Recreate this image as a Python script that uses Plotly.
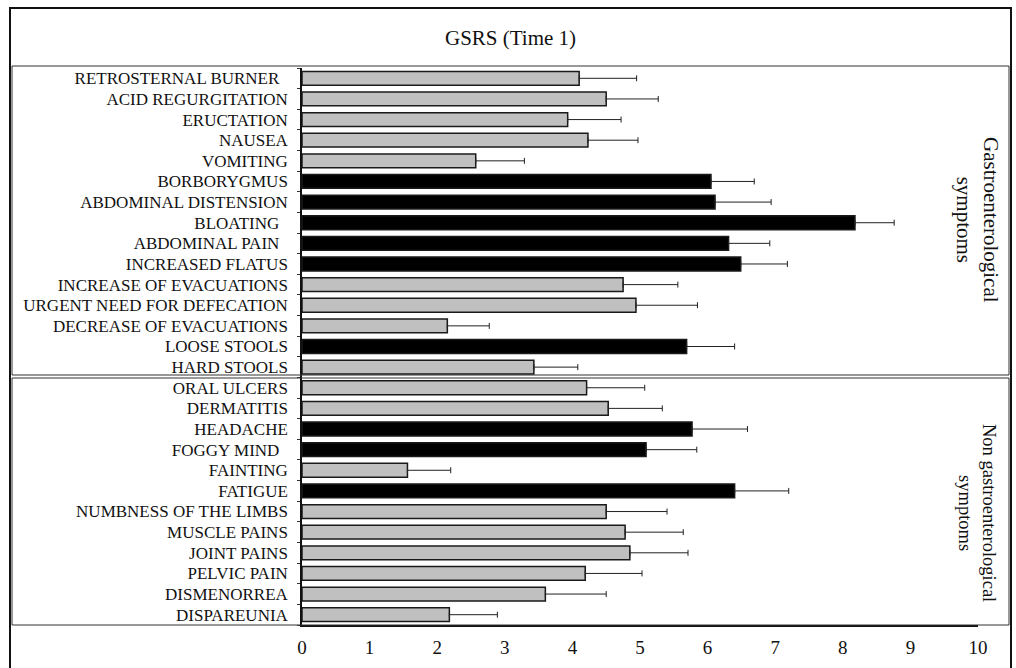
import plotly.graph_objects as go

# ---------------- data ----------------
categories = [
    "RETROSTERNAL BURNER ", "ACID REGURGITATION", "ERUCTATION", "NAUSEA", "VOMITING",
    "BORBORYGMUS", "ABDOMINAL DISTENSION", "BLOATING ", "ABDOMINAL PAIN ", "INCREASED FLATUS",
    "INCREASE OF EVACUATIONS", "URGENT NEED FOR DEFECATION", "DECREASE OF EVACUATIONS",
    "LOOSE STOOLS", "HARD STOOLS",
    "ORAL ULCERS", "DERMATITIS", "HEADACHE", "FOGGY MIND ", "FAINTING", "FATIGUE",
    "NUMBNESS OF THE LIMBS", "MUSCLE PAINS", "JOINT PAINS", "PELVIC PAIN", "DISMENORREA",
    "DISPAREUNIA",
]
means = [
    4.10, 4.50, 3.93, 4.23, 2.57,
    6.05, 6.11, 8.18, 6.31, 6.49,
    4.75, 4.94, 2.15, 5.69, 3.43,
    4.21, 4.53, 5.77, 5.09, 1.56, 6.40,
    4.50, 4.78, 4.85, 4.19, 3.60, 2.18,
]
errors = [
    0.85, 0.77, 0.79, 0.74, 0.72,
    0.64, 0.83, 0.58, 0.61, 0.69,
    0.81, 0.91, 0.62, 0.71, 0.65,
    0.86, 0.80, 0.82, 0.75, 0.64, 0.80,
    0.90, 0.86, 0.86, 0.84, 0.90, 0.71,
]
highlighted = [
    0, 0, 0, 0, 0,
    1, 1, 1, 1, 1,
    0, 0, 0, 1, 0,
    0, 0, 1, 1, 0, 1,
    0, 0, 0, 0, 0, 0,
]
x_ticks = list(range(0, 11))
title_text = "GSRS (Time 1)"
group_labels = ["Gastroenterological<br>symptoms", "Non gastroenterological<br>symptoms"]

# ---------------- figure ----------------
W, H = 1016, 668
ML, MR, MT, MB = 302, 38, 68, 43
PW, PH = W - ML - MR, H - MT - MB


def px(x):
    return (x - ML) / PW


def py(y):
    return (H - MB - y) / PH


FONT = "Liberation Serif, Times New Roman, serif"
fill = ["#000000" if h else "#c0c0c0" for h in highlighted]
ticktext = [c.rstrip() + ("\u00a0\u00a0" if c.endswith(" ") else "") for c in categories]

fig = go.Figure()
fig.add_trace(go.Bar(
    y=categories,
    x=means,
    orientation="h",
    width=0.67,
    marker=dict(color=fill, line=dict(color="#1a1a1a", width=1.5)),
    error_x=dict(type="data", array=errors, arrayminus=[0] * len(errors),
                 symmetric=False, color="#222222", thickness=1, width=3),
    showlegend=False,
    hoverinfo="x+y",
))

fig.update_layout(
    template="none",
    width=W, height=H,
    margin=dict(l=ML, r=MR, t=MT, b=MB, pad=0, autoexpand=False),
    paper_bgcolor="white", plot_bgcolor="white",
    font=dict(family=FONT, color="#111111"),
    xaxis=dict(range=[0, 10], tickvals=x_ticks, ticktext=[str(v) for v in x_ticks],
               showgrid=False, zeroline=False, showline=True, linecolor="#111111",
               linewidth=1.5, ticks="", tickfont=dict(size=19, family=FONT),
               ticklabelstandoff=4, automargin=False),
    yaxis=dict(tickmode="array", tickvals=categories, ticktext=ticktext,
               autorange=False, range=[len(categories) - 0.5, -0.5],
               showgrid=False, zeroline=False, showline=True, linecolor="#111111",
               linewidth=1.5, ticks="outside", ticklen=3, tickwidth=1,
               tickcolor="#333333", tickson="boundaries",
               tickfont=dict(size=17, family=FONT),
               ticklabelstandoff=9, automargin=False),
)

shapes = [
    # outer frame
    dict(type="rect", xref="paper", yref="paper", x0=px(10), x1=px(1011),
         y0=py(720), y1=py(8), line=dict(color="#111111", width=2)),
    # top panel
    dict(type="rect", xref="paper", yref="paper", x0=px(12), x1=px(1009),
         y0=py(375), y1=py(66), line=dict(color="#333333", width=1)),
    # bottom panel
    dict(type="rect", xref="paper", yref="paper", x0=px(12), x1=px(1009),
         y0=py(625), y1=py(378), line=dict(color="#333333", width=1)),
]
fig.update_layout(shapes=shapes)

annotations = [
    dict(text=title_text, xref="paper", yref="paper", x=px(510), y=py(38),
         showarrow=False, font=dict(size=21, family=FONT, color="#111111"),
         xanchor="center", yanchor="middle"),
    dict(text=group_labels[0], xref="paper", yref="paper", x=px(977), y=py(220),
         showarrow=False, textangle=90, font=dict(size=21, family=FONT, color="#111111"),
         xanchor="center", yanchor="middle"),
    dict(text=group_labels[1], xref="paper", yref="paper", x=px(977), y=py(513),
         showarrow=False, textangle=90, font=dict(size=18.5, family=FONT, color="#111111"),
         xanchor="center", yanchor="middle"),
]
fig.update_layout(annotations=annotations)

fig.write_html(
    "out.html",
    config={"displayModeBar": False},
    post_script="document.body.style.margin='0';document.body.style.overflow='hidden';",
)
